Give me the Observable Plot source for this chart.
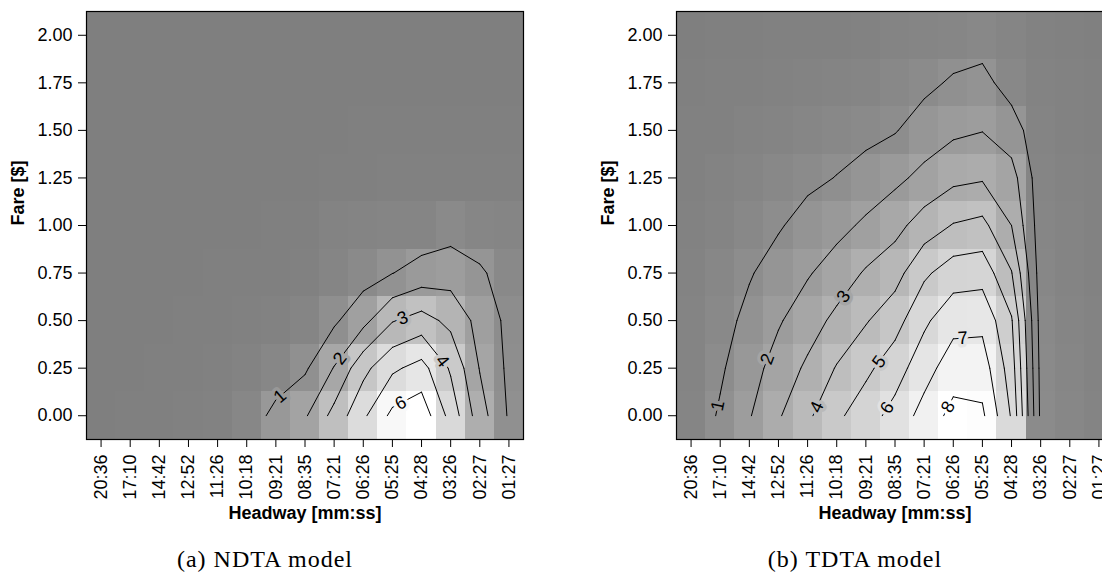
<!DOCTYPE html>
<html>
<head>
<meta charset="utf-8">
<script src="https://cdn.jsdelivr.net/npm/d3@7"></script>
<script src="https://cdn.jsdelivr.net/npm/@observablehq/plot@0.6"></script>
<style>
html, body { margin: 0; padding: 0; background: #fff; overflow: hidden; width: 1102px; height: 575px; }
#wrap { display: flex; flex-wrap: nowrap; width: 1102px; overflow: hidden; }
.panel { flex: 0 0 590px; width: 590px; }
.cap { width: 530px; text-align: center; font-family: "Liberation Serif", "Times New Roman", serif; font-size: 24px; letter-spacing: 1px; line-height: 26px; margin-top: 16px; color: #000; }
</style>
</head>
<body>
<div id="wrap"></div>
<script>
// ---- data ----
const headways = ["20:36","17:10","14:42","12:52","11:26","10:18","09:21","08:35","07:21","06:26","05:25","04:28","03:26","02:27","01:27"];
const fares = [0, 0.25, 0.5, 0.75, 1.0, 1.25, 1.5, 1.75, 2.0];

// NDTA model: one row per fare (0.00 ... 2.00), one value per headway
const ndta = [
  [0.02, 0.03, 0.05, 0.08, 0.18, 0.40, 1.30, 1.88, 3.33, 4.82, 6.25, 6.63, 4.65, 2.44, 0.89],
  [0.01, 0.02, 0.03, 0.05, 0.10, 0.20, 0.40, 0.86, 2.05, 3.70, 4.82, 5.36, 3.87, 1.95, 0.80],
  [0.01, 0.01, 0.02, 0.03, 0.05, 0.08, 0.15, 0.30, 0.84, 1.70, 2.94, 3.40, 2.73, 1.67, 0.74],
  [0.00, 0.01, 0.01, 0.02, 0.03, 0.04, 0.06, 0.12, 0.30, 0.57, 0.98, 1.40, 1.57, 1.15, 0.52],
  [0.00, 0.00, 0.01, 0.01, 0.01, 0.02, 0.03, 0.05, 0.20, 0.25, 0.30, 0.32, 0.55, 0.36, 0.30],
  [0.00, 0.00, 0.00, 0.00, 0.01, 0.01, 0.01, 0.02, 0.04, 0.06, 0.08, 0.10, 0.12, 0.10, 0.08],
  [0.00, 0.00, 0.00, 0.00, 0.00, 0.00, 0.01, 0.01, 0.02, 0.03, 0.04, 0.05, 0.05, 0.04, 0.03],
  [0.00, 0.00, 0.00, 0.00, 0.00, 0.00, 0.00, 0.01, 0.01, 0.01, 0.02, 0.02, 0.02, 0.02, 0.01],
  [0.00, 0.00, 0.00, 0.00, 0.00, 0.00, 0.00, 0.00, 0.00, 0.00, 0.00, 0.00, 0.00, 0.00, 0.00]
];
// TDTA model
const tdta = [
  [0.40, 1.11, 1.93, 2.90, 3.82, 4.80, 5.55, 6.35, 7.37, 8.31, 8.18, 5.90, 0.80, 0.50, 0.30],
  [0.35, 0.87, 1.60, 2.40, 3.18, 4.07, 4.78, 5.55, 6.60, 7.53, 7.51, 5.50, 0.72, 0.45, 0.28],
  [0.30, 0.65, 1.26, 1.90, 2.54, 3.25, 3.92, 4.61, 5.81, 6.67, 6.74, 5.10, 0.62, 0.40, 0.25],
  [0.25, 0.50, 0.92, 1.41, 1.91, 2.45, 3.11, 3.62, 4.82, 5.51, 5.61, 4.05, 0.52, 0.35, 0.22],
  [0.20, 0.35, 0.60, 0.91, 1.35, 1.71, 2.17, 2.68, 3.47, 4.06, 4.27, 3.00, 0.47, 0.30, 0.20],
  [0.15, 0.25, 0.40, 0.60, 0.79, 1.03, 1.41, 1.78, 2.26, 2.76, 2.90, 2.40, 0.42, 0.27, 0.17],
  [0.10, 0.15, 0.25, 0.35, 0.45, 0.60, 0.70, 0.94, 1.47, 1.81, 1.97, 1.45, 0.35, 0.22, 0.14],
  [0.05, 0.10, 0.15, 0.20, 0.25, 0.35, 0.40, 0.60, 0.76, 1.13, 1.28, 0.60, 0.28, 0.18, 0.11],
  [0.03, 0.05, 0.08, 0.10, 0.10, 0.15, 0.20, 0.30, 0.40, 0.46, 0.59, 0.40, 0.22, 0.14, 0.08]
];

const ndtaLevels = [1, 2, 3, 4, 5, 6];
const tdtaLevels = [1, 2, 3, 4, 5, 6, 7, 8];

// contour label anchors (level, headway index, fare)
const ndtaLabelLevels = [1, 2, 3, 4, 6];
const ndtaLabelX = [6.22, 8.22, 10.34, 11.66, 10.29];
const ndtaLabelY = [0.088, 0.298, 0.517, 0.28, 0.065];
const tdtaLabelLevels = [1, 2, 3, 4, 5, 6, 7, 8];
const tdtaLabelX = [0.92, 2.63, 5.26, 4.35, 6.41, 6.80, 9.32, 8.86];
const tdtaLabelY = [0.053, 0.298, 0.623, 0.044, 0.289, 0.035, 0.43, 0.044];

const xAxisTitle = "Headway [mm:ss]";
const yAxisTitle = "Fare [$]";
const captions = ["(a) NDTA model", "(b) TDTA model"];

// ---- layout ----
const W = 590, H = 530, mL = 86, mR = 67, mT = 11, mB = 91;
const fontFamily = "'Liberation Sans', Arial, Helvetica, sans-serif";

const fareStep = fares[1] - fares[0];
const fareAt = j => fares[0] + j * fareStep;

function contourSegments(grid, level) {
  const segs = [];
  const ny = grid.length, nx = grid[0].length;
  const above = v => v >= level;
  for (let j = 0; j < ny - 1; j++) {
    for (let i = 0; i < nx - 1; i++) {
      const a = grid[j][i], b = grid[j][i + 1], c = grid[j + 1][i + 1], d = grid[j + 1][i];
      const pt = (x1, y1, v1, x2, y2, v2) => {
        const t = (level - v1) / (v2 - v1);
        return [x1 + t * (x2 - x1), y1 + t * (y2 - y1)];
      };
      const e = {};
      if (above(a) !== above(b)) e.bottom = pt(i, j, a, i + 1, j, b);
      if (above(b) !== above(c)) e.right = pt(i + 1, j, b, i + 1, j + 1, c);
      if (above(d) !== above(c)) e.top = pt(i, j + 1, d, i + 1, j + 1, c);
      if (above(a) !== above(d)) e.left = pt(i, j, a, i, j + 1, d);
      const keys = Object.keys(e);
      const pairs = [];
      if (keys.length === 2) pairs.push([e[keys[0]], e[keys[1]]]);
      else if (keys.length === 4) {
        const center = (a + b + c + d) / 4;
        if (above(center) === above(a)) pairs.push([e.bottom, e.right], [e.top, e.left]);
        else pairs.push([e.left, e.bottom], [e.right, e.top]);
      }
      for (const [p, q] of pairs) {
        segs.push({level, x1: p[0], y1: fareAt(p[1]), x2: q[0], y2: fareAt(q[1])});
      }
    }
  }
  return segs;
}

function panel(grid, levels, labLevels, labX, labY, caption) {
  const nx = headways.length;
  const cells = [];
  grid.forEach((row, j) => row.forEach((v, i) => cells.push({i, fare: fares[j], v})));
  const segs = levels.flatMap(L => contourSegments(grid, L));

  const kx = (W - mL - mR) / nx;                       // px per headway step
  const ky = (H - mT - mB) / (fares.length * fareStep); // px per fare unit

  const labels = labLevels.map((L, k) => {
    const ax = labX[k], ay = labY[k];
    let best = null;
    for (const s of segs) {
      if (s.level !== L) continue;
      const dx = (s.x2 - s.x1) * kx, dy = (s.y2 - s.y1) * ky;
      const px = (ax - s.x1) * kx, py = (ay - s.y1) * ky;
      const len2 = dx * dx + dy * dy;
      let t = len2 > 0 ? (px * dx + py * dy) / len2 : 0;
      t = Math.max(0, Math.min(1, t));
      const ex = px - t * dx, ey = py - t * dy;
      const dist = ex * ex + ey * ey;
      if (!best || dist < best.dist) {
        let ang = Math.atan2(-dy, dx) * 180 / Math.PI;
        if (ang > 90) ang -= 180;
        if (ang <= -90) ang += 180;
        best = {dist, x: s.x1 + t * (s.x2 - s.x1), y: s.y1 + t * (s.y2 - s.y1), ang};
      }
    }
    const ci = Math.max(0, Math.min(nx - 1, Math.round(best.x)));
    const cj = Math.max(0, Math.min(fares.length - 1, Math.round((best.y - fares[0]) / fareStep)));
    return {text: String(L), x: best.x, y: best.y, rotate: best.ang, bg: grid[cj][ci]};
  });

  const maxV = d3.max(grid.flat());

  const svg = Plot.plot({
    width: W, height: H,
    marginLeft: mL, marginRight: mR, marginTop: mT, marginBottom: mB,
    style: {fontFamily, fontSize: "18px", maxWidth: "none", background: "transparent", overflow: "visible"},
    x: {domain: [-0.5, nx - 0.5], ticks: d3.range(nx), tickFormat: i => headways[i], tickRotate: -90, tickSize: 8, tickPadding: 7, label: null},
    y: {domain: [fares[0] - fareStep / 2, fares[fares.length - 1] + fareStep / 2], ticks: fares, tickFormat: d3.format(".2f"), tickSize: 8, tickPadding: 6, label: null},
    color: {type: "linear", domain: [0, maxV], range: ["#7f7f7f", "#ffffff"]},
    marks: [
      Plot.rect(cells, {x1: d => d.i - 0.5, x2: d => d.i + 0.5, y1: d => d.fare - fareStep / 2, y2: d => d.fare + fareStep / 2, fill: "v", shapeRendering: "crispEdges"}),
      Plot.link(segs, {x1: "x1", y1: "y1", x2: "x2", y2: "y2", stroke: "black", strokeWidth: 1, strokeLinecap: "round"}),
      Plot.text(labels, {x: "x", y: "y", text: "text", rotate: "rotate", fill: "black", stroke: "bg", strokeWidth: 7, paintOrder: "stroke", fontSize: 18}),
      Plot.frame({stroke: "black", strokeWidth: 1.2}),
      Plot.text([xAxisTitle], {frameAnchor: "bottom", dy: 79, text: d => d, fontWeight: "bold", fontSize: 18}),
      Plot.text([yAxisTitle], {frameAnchor: "left", dx: -68, rotate: -90, text: d => d, fontWeight: "bold", fontSize: 18})
    ]
  });

  const div = document.createElement("div");
  div.className = "panel";
  div.appendChild(svg);
  const cap = document.createElement("div");
  cap.className = "cap";
  cap.textContent = caption;
  div.appendChild(cap);
  return div;
}

const wrap = document.getElementById("wrap");
wrap.appendChild(panel(ndta, ndtaLevels, ndtaLabelLevels, ndtaLabelX, ndtaLabelY, captions[0]));
wrap.appendChild(panel(tdta, tdtaLevels, tdtaLabelLevels, tdtaLabelX, tdtaLabelY, captions[1]));
</script>
</body>
</html>
